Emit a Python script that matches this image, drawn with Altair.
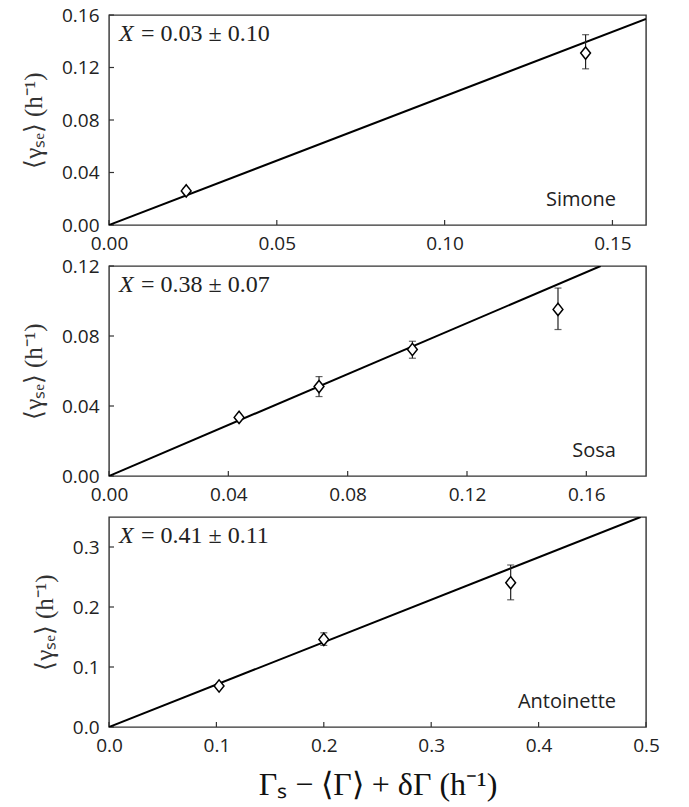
import altair as alt
import pandas as pd

# ---------------- data ----------------
names = ["Simone", "Sosa", "Antoinette"]
annot = ["= 0.03 ± 0.10", "= 0.38 ± 0.07", "= 0.41 ± 0.11"]

simone_x = [0.023, 0.142]
simone_y = [0.026, 0.131]
simone_lo = [0.024, 0.119]
simone_hi = [0.028, 0.145]

sosa_x = [0.0436, 0.0704, 0.1017, 0.1505]
sosa_y = [0.0335, 0.0511, 0.0723, 0.0952]
sosa_lo = [0.0325, 0.0454, 0.0673, 0.0837]
sosa_hi = [0.0345, 0.0568, 0.0770, 0.1074]

ant_x = [0.1025, 0.200, 0.374]
ant_y = [0.0683, 0.146, 0.2405]
ant_lo = [0.066, 0.136, 0.212]
ant_hi = [0.071, 0.157, 0.270]

fit_x_end = [0.16, 0.1648, 0.495]
fit_y_end = [0.157, 0.12, 0.35]

x_domains = [[0, 0.16], [0, 0.18], [0, 0.5]]
y_domains = [[0, 0.16], [0, 0.12], [0, 0.35]]
x_ticks = [[0, 0.05, 0.10, 0.15], [0, 0.04, 0.08, 0.12, 0.16], [0, 0.1, 0.2, 0.3, 0.4, 0.5]]
y_ticks = [[0, 0.04, 0.08, 0.12, 0.16], [0, 0.04, 0.08, 0.12], [0, 0.1, 0.2, 0.3]]
fmts = [".2f", ".2f", ".1f"]

x_title = "Γₛ − ⟨Γ⟩ + δΓ  (h⁻¹)"
y_title = "⟨γₛₑ⟩ (h⁻¹)"

# ---------------- style ----------------
W, H = 537, 210
SANS = "Open Sans"
SERIF = "Liberation Serif"
FRAME = "#333333"
DIAMOND = "M-0.8,0L0,-1L0.8,0L0,1Z"


def panel(i, xs, ys, lo, hi, last):
    df = pd.DataFrame({"x": xs, "y": ys, "lo": lo, "hi": hi})
    line_df = pd.DataFrame({"x": [0, fit_x_end[i]], "y": [0, fit_y_end[i]]})
    xt_df = pd.DataFrame({"x": x_ticks[i]})
    yt_df = pd.DataFrame({"y": y_ticks[i]})

    xsc = alt.Scale(domain=x_domains[i], nice=False, zero=False)
    ysc = alt.Scale(domain=y_domains[i], nice=False, zero=False)
    xax = alt.Axis(values=x_ticks[i], format=fmts[i], ticks=False, grid=False,
                   domain=False, labelFont=SANS, labelFontSize=19, labelColor="#222",
                   labelPadding=9, labelFlush=False,
                   title=x_title if last else None, titleFont=SERIF,
                   titleFontSize=32, titleFontWeight="normal", titleColor="#111",
                   titlePadding=14)
    yax = alt.Axis(values=y_ticks[i], format=fmts[i], ticks=False, grid=False,
                   domain=False, labelFont=SANS, labelFontSize=19, labelColor="#222",
                   labelPadding=10, labelFlush=False,
                   title=y_title, titleFont=SERIF, titleFontSize=25,
                   titleFontWeight="normal", titleColor="#333", titlePadding=15)

    def X(f="x"):
        return alt.X(f"{f}:Q", scale=xsc, axis=xax)

    def Y(f="y"):
        return alt.Y(f"{f}:Q", scale=ysc, axis=yax)

    fit = alt.Chart(line_df).mark_line(color="black", strokeWidth=2, clip=True).encode(x=X(), y=Y())
    bars = alt.Chart(df).mark_rule(color="#222", strokeWidth=1.2).encode(x=X(), y=Y("lo"), y2="hi")
    cap_lo = alt.Chart(df).mark_tick(color="#222", orient="horizontal", size=7, thickness=1.2).encode(x=X(), y=Y("lo"))
    cap_hi = alt.Chart(df).mark_tick(color="#222", orient="horizontal", size=7, thickness=1.2).encode(x=X(), y=Y("hi"))
    pts = alt.Chart(df).mark_point(shape=DIAMOND, size=150, filled=True, fill="white",
                                   stroke="black", strokeWidth=1.5, opacity=1).encode(x=X(), y=Y())
    xtk = alt.Chart(xt_df).mark_rule(color=FRAME, strokeWidth=1.2).encode(
        x=X(), y=alt.value(H), y2=alt.value(H - 5))
    ytk = alt.Chart(yt_df).mark_rule(color=FRAME, strokeWidth=1.2).encode(
        y=Y(), x=alt.value(0), x2=alt.value(5))
    lab_x = alt.Chart(df.head(1)).mark_text(text="X", font=SERIF, fontStyle="italic",
                                            fontSize=24, align="left", baseline="alphabetic",
                                            color="#222").encode(x=alt.value(10), y=alt.value(26))
    lab_v = alt.Chart(df.head(1)).mark_text(text=annot[i], font=SERIF, fontSize=24,
                                            align="left", baseline="alphabetic",
                                            color="#222").encode(x=alt.value(32), y=alt.value(26))
    lab_n = alt.Chart(df.head(1)).mark_text(text=names[i], font=SANS, fontSize=20,
                                            align="right", baseline="alphabetic",
                                            color="#222").encode(x=alt.value(W - 30), y=alt.value(H - 19))
    return alt.layer(xtk, ytk, fit, bars, cap_lo, cap_hi, pts, lab_x, lab_v, lab_n).properties(
        width=W, height=H)


p1 = panel(0, simone_x, simone_y, simone_lo, simone_hi, False)
p2 = panel(1, sosa_x, sosa_y, sosa_lo, sosa_hi, False)
p3 = panel(2, ant_x, ant_y, ant_lo, ant_hi, True)

chart = alt.vconcat(p1, p2, p3, spacing=41, bounds="flush").properties(
    padding={"left": 12, "top": -3, "right": 5, "bottom": 5},
    background="white",
).configure_view(stroke=FRAME, strokeWidth=1.4)

chart.save("out.html", embed_options={"renderer": "svg", "actions": False})
